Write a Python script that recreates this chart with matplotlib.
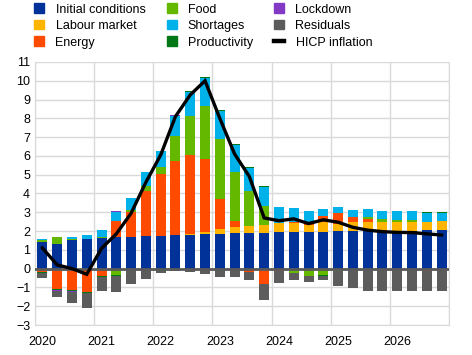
import numpy as np
import matplotlib
matplotlib.use('Agg')
import matplotlib.pyplot as plt
from matplotlib.patches import Patch
from matplotlib.lines import Line2D

plt.rcParams['font.family'] = ['Liberation Sans', 'DejaVu Sans']

# quarterly, 2020Q1 .. 2026Q4
years = ['2020', '2021', '2022', '2023', '2024', '2025', '2026']

initial = [1.42, 1.31, 1.52, 1.58, 1.65, 1.68, 1.68, 1.76, 1.76, 1.81, 1.79, 1.86, 1.86, 1.90,
           1.90, 1.90, 1.95, 1.95, 1.95, 1.95, 2.00, 2.00, 2.00, 2.00, 2.00, 2.00, 2.06, 2.06]
labour = [0, 0, 0, 0, 0, 0, 0, -0.07, 0, 0, 0.07, 0.11, 0.25, 0.32,
          0.39, 0.42, 0.46, 0.50, 0.35, 0.53, 0.40, 0.50, 0.50, 0.48, 0.48, 0.48, 0.42, 0.46]
energy = [-0.16, -1.08, -1.13, -1.22, -0.37, 0.86, 1.32, 2.37, 3.29, 3.92, 4.19, 3.86, 1.60, 0.32,
          -0.16, -0.82, -0.10, 0.04, 0.15, 0.34, 0.54, 0.23, 0.12, 0, 0, 0, -0.10, -0.06]
food = [0.12, 0.36, 0.04, 0, 0.03, -0.34, 0.10, 0.27, 0.36, 1.33, 2.07, 2.84, 3.19, 2.62,
        1.84, 1.01, 0, -0.21, -0.37, -0.34, -0.10, 0, 0.11, 0.16, 0.12, 0.12, 0, 0]
shortages = [0.04, 0.03, 0.14, 0.21, 0.38, 0.49, 0.64, 0.74, 0.85, 1.08, 1.29, 1.49, 1.50, 1.42,
             1.24, 0.99, 0.85, 0.74, 0.62, 0.35, 0.36, 0.39, 0.42, 0.43, 0.47, 0.47, 0.50, 0.46]
productivity = [-0.07, -0.05, -0.05, -0.05, -0.05, -0.05, -0.09, 0, -0.12, 0, 0.04, 0.05, 0.06, 0.03,
                0.04, 0.06, -0.04, 0, 0, -0.05, 0, 0, 0, 0, 0, 0, 0.03, 0.03]
lockdown = [0, -0.06, -0.04, -0.02, -0.03, 0.04, 0, 0, 0, 0.05, 0, 0, 0, 0,
            0, 0, 0, 0, 0, 0, 0, 0, 0, 0, 0, 0, 0, -0.03]
residuals = [-0.25, -0.30, -0.59, -0.78, -0.74, -0.85, -0.71, -0.46, -0.09, -0.10, -0.16, -0.27, -0.43, -0.43,
             -0.44, -0.85, -0.62, -0.39, -0.32, -0.21, -0.82, -1.03, -1.17, -1.17, -1.17, -1.17, -1.07, -1.08]
hicp = [1.1, 0.2, 0.0, -0.3, 1.08, 1.85, 2.95, 4.6, 6.05, 8.1, 9.25, 10.0, 8.0, 6.1,
        4.9, 2.7, 2.55, 2.65, 2.4, 2.6, 2.47, 2.2, 2.05, 1.97, 1.93, 1.92, 1.85, 1.79]

series = [
    ('Initial conditions', initial, '#003299'),
    ('Labour market', labour, '#ffb400'),
    ('Energy', energy, '#ff4b00'),
    ('Food', food, '#65b800'),
    ('Shortages', shortages, '#00b1ea'),
    ('Productivity', productivity, '#007816'),
    ('Lockdown', lockdown, '#8139c6'),
    ('Residuals', residuals, '#5c5c5c'),
]

x = np.arange(len(hicp))

fig = plt.figure(figsize=(4.72, 3.55), dpi=100)
ax = fig.add_axes([35/472, 30/355, 414/472, 263/355])

pos = np.zeros(len(x))
neg = np.zeros(len(x))
for name, vals, col in series:
    v = np.array(vals, dtype=float)
    p = np.where(v > 0, v, 0)
    n = np.where(v < 0, v, 0)
    ax.bar(x, p, bottom=pos, width=0.68, color=col, zorder=2)
    ax.bar(x, n, bottom=neg, width=0.68, color=col, zorder=2)
    pos += p
    neg += n

ax.axhline(0, color='#595959', lw=2, zorder=3)
ax.plot(x, hicp, color='black', lw=2.4, zorder=4, solid_joinstyle='miter')

ax.set_xlim(-0.5, 27.5)
ax.set_ylim(-3, 11)
ax.set_yticks(range(-3, 12))
ax.set_xticks(np.arange(0, 28, 4))
ax.set_xticklabels(years)
ax.set_xticks(np.arange(-0.5, 28, 4), minor=True)
ax.grid(axis='y', which='major', color='#d9d9d9', lw=1, zorder=0)
ax.grid(axis='x', which='minor', color='#d9d9d9', lw=1, zorder=0)
ax.tick_params(which='both', length=0, labelsize=9, colors='black')
ax.tick_params(axis='x', pad=8)
for s in ax.spines.values():
    s.set_color('#d9d9d9')
ax.spines['top'].set_visible(False)

handles = [Patch(color=c, label=n) for n, _, c in series]
handles.append(Line2D([0], [0], color='black', lw=3.2, label='HICP inflation'))
leg = fig.legend(handles=handles, loc='upper left', bbox_to_anchor=(28/472, 1.008),
                 ncol=3, frameon=False, fontsize=9, handlelength=0.8, handleheight=0.8,
                 handletextpad=0.9, columnspacing=1.7, labelspacing=0.35, borderpad=0)

fig.savefig('out.png', dpi=100)
